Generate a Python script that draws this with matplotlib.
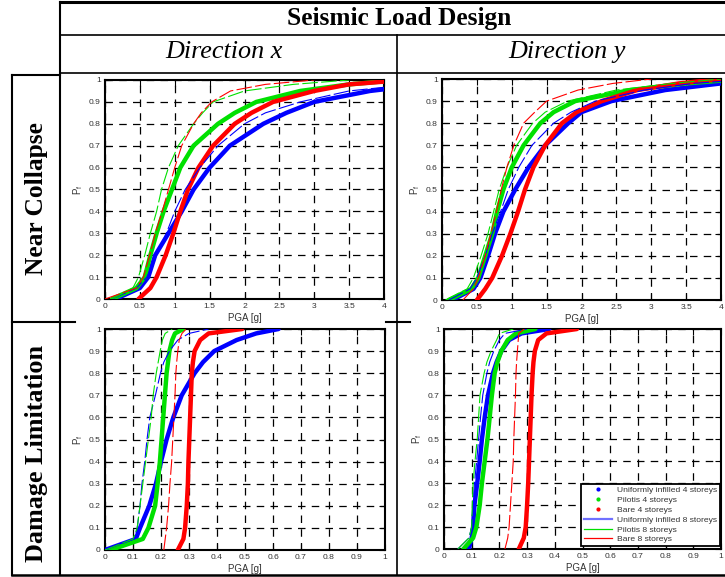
import matplotlib
matplotlib.use("Agg")
import matplotlib.pyplot as plt
from matplotlib.lines import Line2D

W, H = 725, 577

# probability levels at which PGA values were read
P_LEVELS = [0, 0.05, 0.1, 0.2, 0.3, 0.4, 0.5, 0.6, 0.7, 0.8, 0.85, 0.9, 0.95, 0.98, 1.0]

SERIES = ["Uniformly infilled 4 storeys", "Pilotis 4 storeys", "Bare 4 storeys",
          "Uniformly infilled 8 storeys", "Pilotis 8 storeys", "Bare 8 storeys"]

# Near Collapse - direction x (PGA [g])
nc_x_ui4 = [0.15, 0.5, 0.62, 0.72, 0.91, 1.10, 1.27, 1.50, 1.79, 2.27, 2.6, 3.0, 3.8, 4.6, 5.5]
nc_x_pil4 = [0.1, 0.45, 0.57, 0.65, 0.74, 0.84, 0.96, 1.08, 1.27, 1.62, 1.86, 2.17, 2.8, 3.5, 4.2]
nc_x_bare4 = [0.48, 0.65, 0.74, 0.87, 0.98, 1.08, 1.19, 1.34, 1.55, 1.86, 2.1, 2.41, 3.0, 3.5, 4.3]
nc_x_ui8 = [0.1, 0.45, 0.6, 0.74, 0.88, 1.0, 1.15, 1.36, 1.62, 2.0, 2.3, 2.8, 3.5, 4.4, 5.5]
nc_x_pil8 = [0.1, 0.4, 0.48, 0.57, 0.65, 0.74, 0.81, 0.91, 1.05, 1.27, 1.4, 1.55, 2.0, 2.7, 3.5]
nc_x_bare8 = [0.0, 0.45, 0.55, 0.64, 0.72, 0.82, 0.91, 1.0, 1.1, 1.27, 1.38, 1.53, 1.8, 2.3, 3.0]

# Near Collapse - direction y
nc_y_ui4 = [0.15, 0.45, 0.55, 0.66, 0.76, 0.88, 1.05, 1.24, 1.48, 1.81, 2.0, 2.43, 3.2, 4.0, 5.0]
nc_y_pil4 = [0.1, 0.42, 0.52, 0.62, 0.72, 0.79, 0.88, 1.0, 1.17, 1.41, 1.6, 1.91, 2.7, 3.5, 4.3]
nc_y_bare4 = [0.5, 0.62, 0.72, 0.86, 0.98, 1.09, 1.19, 1.31, 1.48, 1.72, 1.93, 2.29, 2.8, 3.4, 4.0]
nc_y_ui8 = [0.1, 0.4, 0.5, 0.62, 0.72, 0.84, 0.95, 1.1, 1.29, 1.6, 1.85, 2.2, 2.9, 3.6, 4.5]
nc_y_pil8 = [0.05, 0.36, 0.45, 0.56, 0.66, 0.74, 0.82, 0.93, 1.07, 1.3, 1.48, 1.8, 2.5, 3.3, 4.0]
nc_y_bare8 = [0.3, 0.45, 0.52, 0.62, 0.7, 0.78, 0.85, 0.93, 1.03, 1.17, 1.33, 1.5, 1.95, 2.45, 3.0]

# Damage Limitation - direction x
dl_x_ui4 = [0.0, 0.11, 0.125, 0.158, 0.182, 0.2, 0.22, 0.244, 0.274, 0.32, 0.35, 0.39, 0.47, 0.54, 0.62]
dl_x_pil4 = [0.02, 0.135, 0.155, 0.179, 0.188, 0.196, 0.202, 0.208, 0.214, 0.22, 0.225, 0.23, 0.24, 0.25, 0.28]
dl_x_bare4 = [0.26, 0.28, 0.286, 0.292, 0.296, 0.298, 0.301, 0.304, 0.307, 0.31, 0.314, 0.32, 0.34, 0.37, 0.49]
dl_x_ui8 = [0.0, 0.105, 0.115, 0.125, 0.132, 0.142, 0.15, 0.16, 0.18, 0.198, 0.21, 0.23, 0.26, 0.3, 0.37]
dl_x_pil8 = [0.0, 0.1, 0.115, 0.125, 0.135, 0.145, 0.155, 0.165, 0.172, 0.183, 0.19, 0.197, 0.205, 0.215, 0.24]
dl_x_bare8 = [0.21, 0.215, 0.22, 0.227, 0.232, 0.238, 0.242, 0.246, 0.25, 0.253, 0.256, 0.26, 0.265, 0.275, 0.29]

# Damage Limitation - direction y
dl_y_ui4 = [0.09, 0.1, 0.105, 0.11, 0.12, 0.129, 0.137, 0.147, 0.159, 0.177, 0.19, 0.207, 0.235, 0.28, 0.38]
dl_y_pil4 = [0.07, 0.105, 0.117, 0.129, 0.137, 0.147, 0.157, 0.165, 0.173, 0.183, 0.193, 0.207, 0.23, 0.26, 0.33]
dl_y_bare4 = [0.27, 0.288, 0.295, 0.3, 0.304, 0.307, 0.31, 0.313, 0.316, 0.32, 0.323, 0.328, 0.34, 0.37, 0.48]
dl_y_ui8 = [0.05, 0.09, 0.1, 0.105, 0.11, 0.118, 0.125, 0.132, 0.14, 0.155, 0.165, 0.18, 0.2, 0.22, 0.3]
dl_y_pil8 = [0.05, 0.09, 0.1, 0.102, 0.105, 0.112, 0.12, 0.125, 0.13, 0.145, 0.155, 0.17, 0.19, 0.2, 0.25]
dl_y_bare8 = [0.22, 0.23, 0.235, 0.24, 0.245, 0.25, 0.252, 0.255, 0.258, 0.26, 0.262, 0.265, 0.268, 0.27, 0.29]

NC_XTICKS = [0, 0.5, 1, 1.5, 2, 2.5, 3, 3.5, 4]
NC_XLABELS = ["0", "0.5", "1", "1.5", "2", "2.5", "3", "3.5", "4"]
DL_XTICKS = [0, 0.1, 0.2, 0.3, 0.4, 0.5, 0.6, 0.7, 0.8, 0.9, 1]
DL_XLABELS = ["0", "0.1", "0.2", "0.3", "0.4", "0.5", "0.6", "0.7", "0.8", "0.9", "1"]
YTICKS = [0, 0.1, 0.2, 0.3, 0.4, 0.5, 0.6, 0.7, 0.8, 0.9, 1]
YLABELS = ["0", "0.1", "0.2", "0.3", "0.4", "0.5", "0.6", "0.7", "0.8", "0.9", "1"]

COL_BLUE = "#0000ff"
COL_GREEN = "#00e000"
COL_RED = "#ff0000"

fig = plt.figure(figsize=(W / 100, H / 100), dpi=100)


def fx(x):
    return x / W


def fy(y):
    return 1 - y / H


def rect(x0, y0, x1, y1):
    return [fx(x0), fy(y1), (x1 - x0) / W, (y1 - y0) / H]


def hline(y, x0, x1, lw=1.5):
    fig.add_artist(Line2D([fx(x0), fx(x1)], [fy(y), fy(y)], color="black", lw=lw,
                          transform=fig.transFigure))


def vline(x, y0, y1, lw=1.5):
    fig.add_artist(Line2D([fx(x), fx(x)], [fy(y0), fy(y1)], color="black", lw=lw,
                          transform=fig.transFigure))


# table frame
hline(2, 60, 725, lw=2.2)
hline(35, 60, 725, lw=1.2)
hline(73, 60, 725, lw=1.2)
hline(75, 12, 60)
hline(322, 12, 75)
hline(322, 386, 410)
hline(575, 12, 725, lw=1.8)
vline(60, 2, 575)
vline(12, 75, 575)
vline(397, 35, 575, lw=1.2)

serif = ["Liberation Serif", "DejaVu Serif"]
fig.text(fx(399), fy(19), "Seismic Load Design", ha="center", va="center",
         fontsize=18.3, fontweight="bold", family=serif)
fig.text(fx(224), fy(52), "Direction x", ha="center", va="center",
         fontsize=18.8, style="italic", family=serif)
fig.text(fx(567), fy(52), "Direction y", ha="center", va="center",
         fontsize=18.8, style="italic", family=serif)
fig.text(fx(37), fy(199), "Near Collapse", ha="center", va="center", rotation=90,
         fontsize=18.3, fontweight="bold", family=serif)
fig.text(fx(37), fy(453), "Damage Limitation", ha="center", va="center", rotation=90,
         fontsize=18.8, fontweight="bold", family=serif)

sans = ["Liberation Sans", "DejaVu Sans"]
TXT = "#333333"


def make_panel(r, xmax, xticks, xlabels, data, legend=False):
    ax = fig.add_axes(rect(*r))
    ui4, pil4, bare4, ui8, pil8, bare8 = data
    ax.plot(ui4, P_LEVELS, color=COL_BLUE, lw=3.2, solid_capstyle="round", zorder=3)
    ax.plot(pil4, P_LEVELS, color=COL_GREEN, lw=3.2, solid_capstyle="round", zorder=3)
    ax.plot(bare4, P_LEVELS, color=COL_RED, lw=3.2, solid_capstyle="round", zorder=3)
    thin = dict(lw=0.8, zorder=4, ls=(0, (14, 3)))
    ax.plot(ui8, P_LEVELS, color=COL_BLUE, **thin)
    ax.plot(pil8, P_LEVELS, color=COL_GREEN, **thin)
    ax.plot(bare8, P_LEVELS, color=COL_RED, **thin)
    ax.set_xlim(0, xmax)
    ax.set_ylim(0, 1)
    ax.set_xticks(xticks)
    ax.set_xticklabels(xlabels)
    ax.set_yticks(YTICKS)
    ax.set_yticklabels(YLABELS)
    ax.grid(True, color="black", ls=(0, (6, 5)), lw=0.9)
    ax.set_axisbelow(True)
    ax.tick_params(direction="in", length=4, width=0.8, top=True, right=True,
                   labelsize=6.1, pad=3, colors=TXT)
    ax.tick_params(axis="both", color="black")
    for lab in ax.get_xticklabels() + ax.get_yticklabels():
        lab.set_family(sans)
    for s in ax.spines.values():
        s.set_linewidth(1.5)
        s.set_color("black")
    ax.set_xlabel("PGA [g]", fontsize=7, family=sans, labelpad=2, color=TXT)
    ax.set_ylabel("P$_\\mathregular{f}$", fontsize=7, family=sans, labelpad=3, color=TXT)
    if legend:
        handles = [
            Line2D([], [], ls="none", marker=".", color=COL_BLUE, markersize=4),
            Line2D([], [], ls="none", marker=".", color=COL_GREEN, markersize=4),
            Line2D([], [], ls="none", marker=".", color=COL_RED, markersize=4),
            Line2D([], [], color="#7070ff", lw=1.6),
            Line2D([], [], color=COL_GREEN, lw=0.9),
            Line2D([], [], color=COL_RED, lw=0.9),
        ]
        leg = ax.legend(handles, SERIES, loc="lower right", bbox_to_anchor=(0.995, 0.012),
                        prop={"family": sans, "size": 6.1}, frameon=True, fancybox=False,
                        edgecolor="black", framealpha=1, borderpad=0.35,
                        labelspacing=0.22, handlelength=3.3, handletextpad=0.5,
                        borderaxespad=0)
        leg.get_frame().set_linewidth(1.3)
        for t in leg.get_texts():
            t.set_color(TXT)
        leg.set_zorder(10)
    return ax


make_panel((105, 80, 384, 299), 4, NC_XTICKS, NC_XLABELS,
           (nc_x_ui4, nc_x_pil4, nc_x_bare4, nc_x_ui8, nc_x_pil8, nc_x_bare8))
make_panel((442, 79, 721, 300), 4, NC_XTICKS, NC_XLABELS,
           (nc_y_ui4, nc_y_pil4, nc_y_bare4, nc_y_ui8, nc_y_pil8, nc_y_bare8))
make_panel((105, 329, 385, 550), 1, DL_XTICKS, DL_XLABELS,
           (dl_x_ui4, dl_x_pil4, dl_x_bare4, dl_x_ui8, dl_x_pil8, dl_x_bare8))
make_panel((444, 329, 721, 549), 1, DL_XTICKS, DL_XLABELS,
           (dl_y_ui4, dl_y_pil4, dl_y_bare4, dl_y_ui8, dl_y_pil8, dl_y_bare8), legend=True)

fig.savefig("out.png", dpi=100)
